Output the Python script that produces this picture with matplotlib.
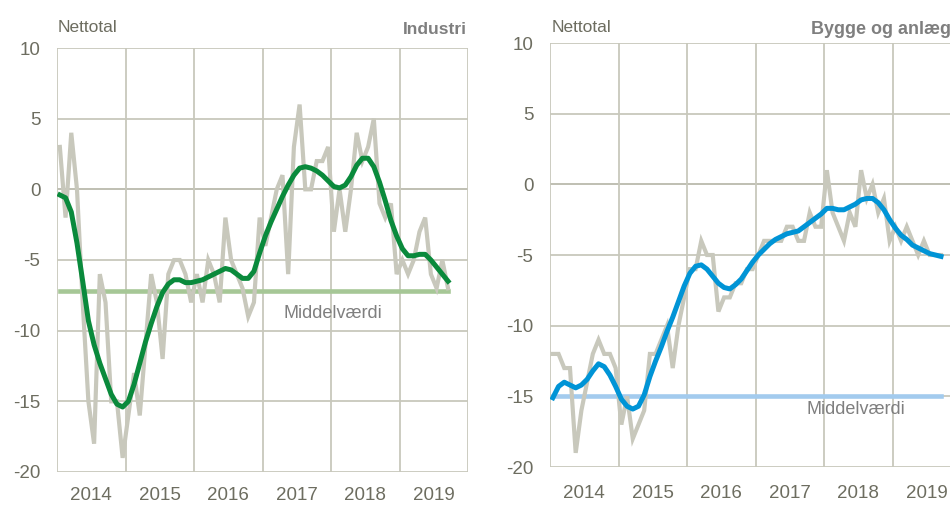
import matplotlib
matplotlib.use("Agg")
import matplotlib.pyplot as plt

plt.rcParams['font.family'] = ['Liberation Sans Narrow', 'Liberation Sans', 'DejaVu Sans']
plt.rcParams['axes.unicode_minus'] = False

years = ["2014", "2015", "2016", "2017", "2018", "2019"]

# Industri, monthly from Jan 2014
ind_raw = [3, -2, 4, 0, -8, -15, -18, -6, -8, -15, -15, -19,
           -16, -13, -16, -11, -6, -8, -12, -6, -5, -5, -6, -8,
           -6, -8, -5, -6, -8, -2, -5, -6, -7, -9, -8, -2,
           -4, -2, 0, 1, -6, 3, 6, 0, 0, 2, 2, 3,
           -3, 0, -3, 0, 4, 2, 3, 5, -1, -2, -1, -6,
           -5, -6, -5, -3, -2, -6, -7, -5, -7]
ind_trend = [-0.4, -0.6, -1.6, -3.8, -6.5, -9.3, -11.0, -12.3, -13.4, -14.5, -15.2, -15.4,
             -15.0, -13.8, -12.3, -10.8, -9.5, -8.3, -7.3, -6.7, -6.4, -6.4, -6.6, -6.6,
             -6.5, -6.4, -6.2, -6.0, -5.8, -5.6, -5.7, -6.0, -6.3, -6.3, -5.8, -4.5,
             -3.3, -2.3, -1.4, -0.5, 0.3, 1.0, 1.5, 1.6, 1.5, 1.3, 1.0, 0.6,
             0.2, 0.1, 0.3, 0.9, 1.7, 2.2, 2.2, 1.6, 0.5, -0.8, -2.2, -3.3,
             -4.2, -4.7, -4.7, -4.6, -4.6, -5.0, -5.5, -6.0, -6.5]
ind_mean = -7.2

# Bygge og anlæg, monthly from Jan 2014
byg_raw = [-12, -12, -13, -13, -19, -16, -14, -12, -11, -12, -12, -13,
           -17, -15, -18, -17, -16, -12, -12, -11, -10, -13, -10, -8,
           -6, -6, -4, -5, -5, -9, -8, -8, -7, -7, -6, -6,
           -5, -4, -4, -4, -4, -3, -3, -4, -4, -2, -3, -3,
           1, -2, -3, -4, -2, -3, 1, -1, 0, -2, -1, -4,
           -3, -4, -3, -4, -5, -4, -5, -5, -5]
byg_trend = [-15.1, -14.3, -14.0, -14.2, -14.4, -14.2, -13.8, -13.2, -12.7, -12.9, -13.5, -14.3,
             -15.2, -15.7, -15.9, -15.7, -14.9, -13.6, -12.5, -11.5, -10.4, -9.4, -8.3, -7.2,
             -6.3, -5.8, -5.7, -6.0, -6.5, -7.0, -7.3, -7.4, -7.1, -6.7, -6.1, -5.5,
             -5.0, -4.6, -4.2, -3.9, -3.7, -3.5, -3.4, -3.3, -3.0, -2.7, -2.4, -2.1,
             -1.7, -1.7, -1.8, -1.8, -1.6, -1.4, -1.1, -1.0, -1.0, -1.3, -1.8, -2.5,
             -3.1, -3.6, -3.9, -4.3, -4.5, -4.7, -4.9, -5.0, -5.1]
byg_mean = -15.0

W, H = 950, 505
TXT = '#6d6d60'
GRID = '#c8c8bc'
RAW = '#c8c8bc'

fig = plt.figure(figsize=(9.5, 5.05), dpi=100)


def panel(left_px, top_px, raw, trend, mean, col, mean_col, lab_xy, xpad):
    ax = fig.add_axes([left_px / W, 1 - (top_px + 424) / H, 411 / W, 424 / H])
    x = [i + 0.5 for i in range(len(raw))]
    ax.plot(x, raw, color=RAW, lw=3.0, solid_joinstyle='miter', zorder=3)
    ax.plot(x, [mean] * len(x), color=mean_col, lw=3.3, zorder=2)
    ax.plot(x, trend, color=col, lw=3.6, zorder=4)
    ax.axhline(0, color='#6b6b5c', lw=1.3, zorder=1.5)
    ax.set_xlim(0, 72)
    ax.set_ylim(-20, 10)
    ax.set_yticks(range(-20, 11, 5))
    ax.set_xticks(range(0, 73, 12))
    ax.set_xticks([6 + 12 * k for k in range(len(years))], minor=True)
    ax.set_xticklabels([])
    ax.set_xticklabels(years, minor=True)
    ax.grid(True, which='major', color=GRID, lw=1.3, zorder=0)
    ax.tick_params(which='both', length=0, colors=TXT, labelsize=13.5)
    ax.tick_params(axis='x', which='minor', pad=xpad)
    ax.tick_params(axis='y', pad=12)
    for s in ax.spines.values():
        s.set_visible(False)
    ax.text(lab_xy[0] / W, 1 - lab_xy[1] / H, "Middelværdi", transform=fig.transFigure,
            ha='center', va='center', fontsize=13, color='#7f7f7f')
    return ax


ax1 = panel(57, 48, ind_raw, ind_trend, ind_mean, '#0a8a3c', '#a6c796', (333, 313), 11)
ax2 = panel(550, 43, byg_raw, byg_trend, byg_mean, '#0094d6', '#a3cbee', (856, 410), 13)

fig.text(58 / W, 1 - 27 / H, "Nettotal", ha='left', va='center', fontsize=12.5, color=TXT)
fig.text(467 / W, 1 - 30 / H, "Industri", ha='right', va='center', fontsize=12.5,
         color='#7f7f7f', fontweight='bold')
fig.text(552 / W, 1 - 27 / H, "Nettotal", ha='left', va='center', fontsize=12.5, color=TXT)
fig.text(951 / W, 1 - 29 / H, "Bygge og anlæg", ha='right', va='center', fontsize=13,
         color='#7f7f7f', fontweight='bold')

fig.savefig("out.png", dpi=100)
